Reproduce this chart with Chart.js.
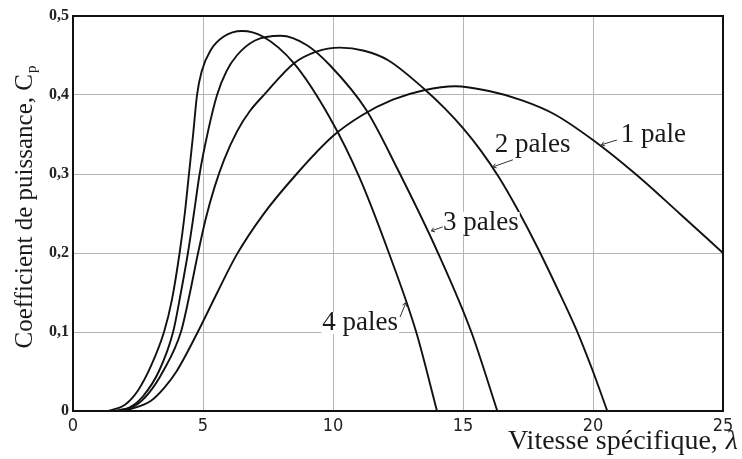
<!DOCTYPE html>
<html>
<head>
<meta charset="utf-8">
<script src="https://cdn.jsdelivr.net/npm/chart.js@4/dist/chart.umd.min.js"></script>
<style>
html,body{margin:0;padding:0;background:#fff;}
canvas{display:block;}
</style>
</head>
<body>
<canvas id="c" width="742" height="459"></canvas>
<script>
// ---- data (tip speed ratio λ, power coefficient Cp) ----
const lambda4 = [1.35,2.0,2.5,3.0,3.5,3.8,4.1,4.3,4.46,4.62,4.77,4.95,5.3,5.8,6.5,7.3,8.5,9.9,11.0,12.15,13.2,14.0];
const cp4     = [0,0.008,0.026,0.057,0.1,0.14,0.2,0.25,0.3,0.35,0.4,0.43,0.457,0.474,0.481,0.474,0.44,0.37,0.297,0.2,0.1,0];

const lambda3 = [1.55,2.2,2.7,3.3,3.85,4.15,4.42,4.65,4.87,5.2,5.54,5.9,6.3,7.0,8.0,9.0,9.9,11.28,12.5,14.04,15.32,16.32];
const cp3     = [0,0.005,0.019,0.05,0.1,0.15,0.2,0.25,0.3,0.355,0.4,0.43,0.45,0.469,0.475,0.463,0.437,0.381,0.305,0.2,0.1,0];

const lambda2 = [1.75,2.4,2.9,3.46,4.15,4.5,4.81,5.11,5.45,5.81,6.31,6.81,7.37,8.49,9.36,10.26,11.2,12.12,13.53,14.3,15.0,15.7,16.4,17.1,17.88,18.6,19.36,20.0,20.55];
const cp2     = [0,0.007,0.022,0.05,0.1,0.15,0.2,0.244,0.284,0.318,0.354,0.38,0.401,0.44,0.455,0.46,0.456,0.444,0.407,0.383,0.358,0.329,0.295,0.255,0.206,0.157,0.103,0.05,0];

const lambda1 = [2.0,3.0,3.5,3.98,4.8,5.55,6.28,7.3,8.6,10.0,11.1,12.3,13.5,14.7,16.0,17.3,18.5,20.0,21.67,23.33,25];
const cp1     = [0,0.013,0.029,0.05,0.1,0.15,0.197,0.248,0.3,0.348,0.374,0.394,0.406,0.411,0.405,0.393,0.376,0.343,0.299,0.25,0.2];

const seriesNames = ['4 pales','3 pales','2 pales','1 pale'];
const xTicks = [0,5,10,15,20,25];
const yTicks = [0,0.1,0.2,0.3,0.4,0.5];
const xTitle = 'Vitesse spécifique, ';
const xTitleSymbol = 'λ';
const yTitle = 'Coefficient de puissance, C';
const yTitleSub = 'p';

// curve labels with their leader arrows (data units)
const curveLabels = [
  {text:'1 pale',  at:[21.07,0.349], from:[20.92,0.343], to:[20.32,0.337]},
  {text:'2 pales', at:[16.22,0.337], from:[16.92,0.318], to:[16.15,0.309]},
  {text:'3 pales', at:[14.23,0.238], from:[14.22,0.233], to:[13.78,0.228]},
  {text:'4 pales', at:[9.59,0.111],  from:[12.58,0.119], to:[12.8,0.137]}
];

function toPoints(xs, ys){ return xs.map((x,i)=>({x:x, y:ys[i]})); }

const SERIF = '"Liberation Serif","Times New Roman",serif';

const framePlugin = {
  id:'frame',
  afterDatasetsDraw(chart){
    const {ctx, chartArea:a} = chart;
    ctx.save();
    ctx.strokeStyle = '#111';
    ctx.lineWidth = 2;
    ctx.strokeRect(a.left, a.top, a.right - a.left, a.bottom - a.top);
    ctx.restore();
  }
};

const titlesPlugin = {
  id:'titles',
  afterDraw(chart){
    const ctx = chart.ctx;
    ctx.save();
    ctx.fillStyle = '#1a1a1a';
    // y title, rotated
    ctx.translate(25, 207);
    ctx.rotate(-Math.PI/2);
    ctx.font = '25px ' + SERIF;
    const wMain = ctx.measureText(yTitle).width;
    ctx.font = '15px ' + SERIF;
    const wSub = ctx.measureText(yTitleSub).width;
    const start = -(wMain + wSub + 1)/2;
    ctx.textBaseline = 'middle';
    ctx.textAlign = 'left';
    ctx.font = '25px ' + SERIF;
    ctx.fillText(yTitle, start, 0);
    ctx.font = '15px ' + SERIF;
    ctx.fillText(yTitleSub, start + wMain + 1, 7);
    ctx.restore();

    // x title, bottom-right
    ctx.save();
    ctx.fillStyle = '#1a1a1a';
    ctx.textBaseline = 'middle';
    ctx.textAlign = 'right';
    ctx.font = 'italic 28px ' + SERIF;
    const wL = ctx.measureText(xTitleSymbol).width;
    ctx.fillText(xTitleSymbol, 738, 442);
    ctx.font = '28px ' + SERIF;
    ctx.fillText(xTitle, 738 - wL - 1, 442);
    ctx.restore();
  }
};

const labelsPlugin = {
  id:'curveLabels',
  afterDatasetsDraw(chart){
    const ctx = chart.ctx;
    const xs = chart.scales.x, ys = chart.scales.y;
    ctx.save();
    ctx.font = '27px ' + SERIF;
    ctx.textBaseline = 'middle';
    ctx.textAlign = 'left';
    curveLabels.forEach(l=>{
      const tx = xs.getPixelForValue(l.at[0]), ty = ys.getPixelForValue(l.at[1]);
      const w = ctx.measureText(l.text).width;
      ctx.fillStyle = '#fff';
      ctx.fillRect(tx - 1, ty - 11, w + 2, 22);
      ctx.fillStyle = '#1a1a1a';
      ctx.fillText(l.text, tx, ty);
      const x1 = xs.getPixelForValue(l.from[0]), y1 = ys.getPixelForValue(l.from[1]);
      const x2 = xs.getPixelForValue(l.to[0]),   y2 = ys.getPixelForValue(l.to[1]);
      ctx.strokeStyle = '#333';
      ctx.lineWidth = 1;
      ctx.beginPath();
      ctx.moveTo(x1, y1); ctx.lineTo(x2, y2);
      const ang = Math.atan2(y2 - y1, x2 - x1);
      const h = 4;
      ctx.moveTo(x2, y2); ctx.lineTo(x2 - h*Math.cos(ang - 0.6), y2 - h*Math.sin(ang - 0.6));
      ctx.moveTo(x2, y2); ctx.lineTo(x2 - h*Math.cos(ang + 0.6), y2 - h*Math.sin(ang + 0.6));
      ctx.stroke();
    });
    ctx.restore();
  }
};

const lineStyle = {
  borderColor:'#111',
  backgroundColor:'#111',
  borderWidth:1.9,
  pointRadius:0,
  showLine:true,
  fill:false,
  cubicInterpolationMode:'monotone'
};

new Chart(document.getElementById('c'), {
  type:'scatter',
  data:{
    datasets:[
      Object.assign({label:seriesNames[0], data:toPoints(lambda4, cp4)}, lineStyle),
      Object.assign({label:seriesNames[1], data:toPoints(lambda3, cp3)}, lineStyle),
      Object.assign({label:seriesNames[2], data:toPoints(lambda2, cp2)}, lineStyle),
      Object.assign({label:seriesNames[3], data:toPoints(lambda1, cp1)}, lineStyle)
    ]
  },
  options:{
    responsive:false,
    animation:false,
    devicePixelRatio:1,
    layout:{padding:{top:16, right:19, left:0, bottom:0}},
    plugins:{legend:{display:false}, tooltip:{enabled:false}},
    scales:{
      x:{
        type:'linear', min:0, max:25,
        afterBuildTicks(s){ s.ticks = xTicks.map(v=>({value:v})); },
        afterFit(s){ s.height = 48; },
        grid:{color:'#b4b4b4', lineWidth:1, drawTicks:false},
        border:{display:false},
        ticks:{
          padding:5,
          color:'#222',
          font:{family:'"Liberation Sans Narrow","DejaVu Sans Condensed",sans-serif', size:18},
          callback:v=>String(v)
        }
      },
      y:{
        type:'linear', min:0, max:0.5,
        afterBuildTicks(s){ s.ticks = yTicks.map(v=>({value:v})); },
        afterFit(s){ s.width = 73; },
        grid:{color:'#b4b4b4', lineWidth:1, drawTicks:false},
        border:{display:false},
        ticks:{
          padding:4,
          color:'#222',
          font:{family:SERIF, size:16, weight:'bold'},
          callback:v=> v === 0 ? '0' : v.toFixed(1).replace('.', ',')
        }
      }
    }
  },
  plugins:[framePlugin, labelsPlugin, titlesPlugin]
});
</script>
</body>
</html>
